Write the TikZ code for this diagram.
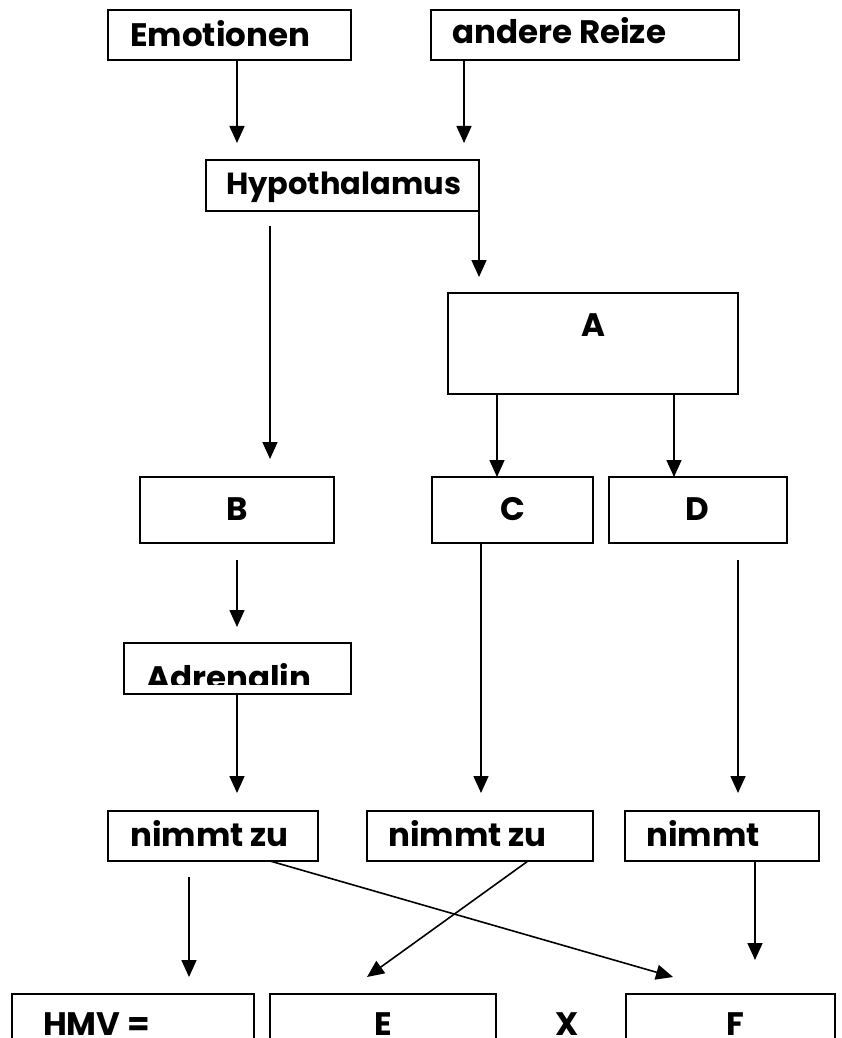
\documentclass[tikz,border=0pt]{standalone}
\usepackage{fontspec}
\setmainfont{Poppins}
\usetikzlibrary{arrows.meta,positioning}
\tikzset{
  >={Triangle[length=17pt,width=15pt]},
  box/.style = {draw=black, line width=1.8pt, anchor=north west, inner sep=0pt, outer sep=0pt},
  tag/.style = {font=\fontsize{32.5}{36}\selectfont\bfseries, inner sep=0pt, anchor=base west},
  flow/.style = {->, draw=black, line width=1.6pt},
}
\begin{document}
\begin{tikzpicture}[x=1pt,y=-1pt]
  \useasboundingbox (0,0) rectangle (841,1038);
  \clip (0,0) rectangle (841,1038);

  % obere Reihe
  \node[box, minimum width=243pt, minimum height=50pt] (emo) at (108,10) {};
  \node[box, minimum width=308pt, minimum height=50pt] (reize) at (431,10) {};
  \node[tag] (emoT) at (130,47) {Emotionen};
  \node[tag] (reizeT) at (452,44) {andere Reize};

  \node[box, minimum width=273pt, minimum height=51pt] (hypo) at (206,160) {};
  \node[tag, font=\fontsize{30.5}{36}\selectfont\bfseries] (hypoT) at (226,194) {Hypothalamus};

  \node[box, minimum width=290pt, minimum height=101pt] (A) at (448,293) {};
  \node[tag, anchor=base] (AT) at (593,336) {A};

  % B, C, D
  \node[box, minimum width=194pt, minimum height=66pt] (B) at (140,477) {};
  \node[box, minimum width=161pt, minimum height=66pt] (C) at (432,477) {};
  \node[box, minimum width=178pt, minimum height=66pt] (D) at (609,477) {};
  \node[tag, anchor=base] (BT) at (237,520) {B};
  \node[tag, anchor=base] (CT) at (513,520) {C};
  \node[tag, anchor=base] (DT) at (697,520) {D};

  \node[box, minimum width=227pt, minimum height=51pt] (adr) at (124,643) {};
  \begin{scope}
    \clip (124,643) rectangle (351,684);
    \node[tag] (adrT) at (146,689) {Adrenalin};
  \end{scope}

  % nimmt-Reihe
  \node[box, minimum width=210pt, minimum height=50pt] (zuB) at (108,811) {};
  \node[box, minimum width=226pt, minimum height=50pt] (zuC) at (367,811) {};
  \node[box, minimum width=194pt, minimum height=50pt] (zuD) at (625,811) {};
  \node[tag] (zuBT) at (130,846) {nimmt zu};
  \node[tag] (zuCT) at (388,846) {nimmt zu};
  \node[tag] (zuDT) at (646,846) {nimmt};

  % untere Reihe
  \node[box, minimum width=242pt, minimum height=80pt] (hmv) at (12,994) {};
  \node[box, minimum width=226pt, minimum height=80pt] (E) at (270,994) {};
  \node[box, minimum width=209pt, minimum height=80pt] (F) at (626,994) {};
  \node[tag] (hmvT) at (43,1035) {HMV =};
  \node[tag, anchor=base] (ET) at (383,1035) {E};
  \node[tag, anchor=base] (XT) at (567,1035) {X};
  \node[tag, anchor=base] (FT) at (735,1035) {F};

  % freie Enden
  \coordinate (t1) at (237,143);
  \coordinate (t2) at (464,143);
  \coordinate (t3) at (479,277);
  \coordinate (s4) at (270,226);
  \coordinate (t4) at (270,459);
  \coordinate (xc) at (497,0);
  \coordinate (xd) at (674,0);
  \coordinate (s7) at (237,560);
  \coordinate (t7) at (237,627);
  \coordinate (t8) at (237,793);
  \coordinate (t9) at (481,793);
  \coordinate (s10) at (738,560);
  \coordinate (t10) at (738,793);
  \coordinate (s11) at (189,877);
  \coordinate (t11) at (189,977);
  \coordinate (s12) at (270,861);
  \coordinate (t12) at (673,977);
  \coordinate (s13) at (528,861);
  \coordinate (t13) at (367,977);
  \coordinate (s14) at (755,861);
  \coordinate (t14) at (755,960);

  \draw[flow] (emo.south -| t1) -- (t1);
  \draw[flow] (reize.south -| t2) -- (t2);
  \draw[flow] (hypo.south east) -- (t3);
  \draw[flow] (s4) -- (t4);
  \draw[flow] (A.south -| xc) -- (C.north -| xc);
  \draw[flow] (A.south -| xd) -- (D.north -| xd);
  \draw[flow] (s7) -- (t7);
  \draw[flow] (adr.south -| t8) -- (t8);
  \draw[flow] (C.south -| t9) -- (t9);
  \draw[flow] (s10) -- (t10);
  \draw[flow] (s11) -- (t11);
  \draw[flow] (zuB.south -| s12) -- (t12);
  \draw[flow] (zuC.south -| s13) -- (t13);
  \draw[flow] (zuD.south -| s14) -- (t14);
\end{tikzpicture}
\end{document}
